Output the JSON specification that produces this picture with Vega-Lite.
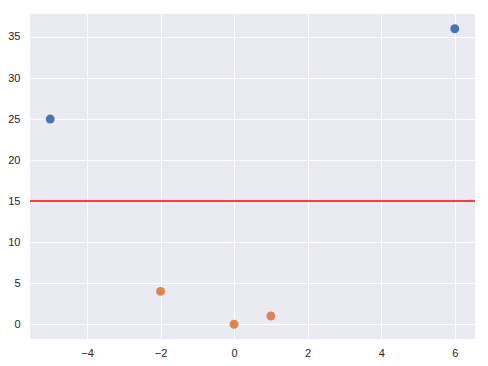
{
  "$schema": "https://vega.github.io/schema/vega-lite/v6.json",
  "width": 445,
  "height": 325,
  "autosize": {"type": "none"},
  "padding": {"left": 30, "top": 14, "right": 13, "bottom": 27},
  "background": "white",
  "config": {
    "view": {"fill": "#eaeaf2", "stroke": null},
    "axis": {
      "domain": false,
      "ticks": false,
      "grid": true,
      "gridColor": "white",
      "gridWidth": 1,
      "labelFont": "Liberation Sans",
      "labelFontSize": 11,
      "labelColor": "#262626",
      "title": null
    }
  },
  "layer": [
    {
      "data": {"values": [
        {"x": -5, "y": 25, "group": "a"},
        {"x": 6, "y": 36, "group": "a"},
        {"x": -2, "y": 4, "group": "b"},
        {"x": 0, "y": 0, "group": "b"},
        {"x": 1, "y": 1, "group": "b"}
      ]},
      "mark": {"type": "circle", "size": 80, "opacity": 1},
      "encoding": {
        "x": {"field": "x", "type": "quantitative",
              "scale": {"domain": [-5.55, 6.55], "nice": false, "zero": false},
              "axis": {"values": [-4, -2, 0, 2, 4, 6], "labelPadding": 8}},
        "y": {"field": "y", "type": "quantitative",
              "scale": {"domain": [-1.8, 37.8], "nice": false, "zero": false},
              "axis": {"values": [0, 5, 10, 15, 20, 25, 30, 35], "labelPadding": 10}},
        "color": {"field": "group", "type": "nominal",
                  "scale": {"domain": ["a", "b"], "range": ["#4c72b0", "#dd8452"]},
                  "legend": null}
      }
    },
    {
      "data": {"values": [{"y": 15}]},
      "mark": {"type": "rule", "color": "#ff0000", "strokeWidth": 1.5},
      "encoding": {"y": {"field": "y", "type": "quantitative"}}
    }
  ]
}
